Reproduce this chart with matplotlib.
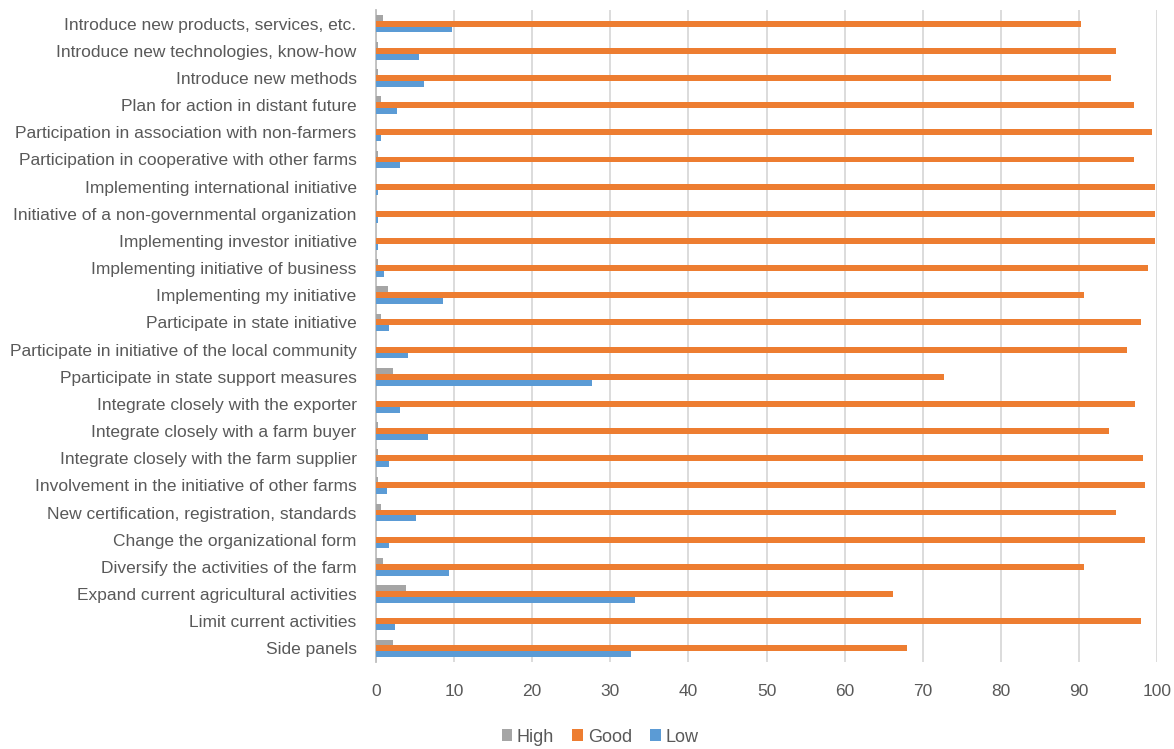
import numpy as np
import matplotlib
matplotlib.use("Agg")
from matplotlib import pyplot as plt

plt.rcParams['font.family'] = ['Liberation Sans', 'DejaVu Sans']

# categories listed top to bottom as in the picture
categories = [
    "Introduce new products, services, etc.",
    "Introduce new technologies, know-how",
    "Introduce new methods",
    "Plan for action in distant future",
    "Participation in association with non-farmers",
    "Participation in cooperative with other farms",
    "Implementing international initiative",
    "Initiative of a non-governmental organization",
    "Implementing investor initiative",
    "Implementing initiative of business",
    "Implementing my initiative",
    "Participate in state initiative",
    "Participate in initiative of the local community",
    "Pparticipate in state support measures",
    "Integrate closely with the exporter",
    "Integrate closely with a farm buyer",
    "Integrate closely with the farm supplier",
    "Involvement in the initiative of other farms",
    "New certification, registration, standards",
    "Change the organizational form",
    "Diversify the activities of the farm",
    "Expand current agricultural activities",
    "Limit current activities",
    "Side panels",
]

high = [0.9, 0.2, 0.2, 0.6, 0.0, 0.2, 0.0, 0.0, 0.0, 0.2, 1.5, 0.6,
        0.0, 2.2, 0.0, 0.2, 0.2, 0.2, 0.6, 0.0, 0.9, 3.8, 0.0, 2.2]
good = [90.3, 94.7, 94.1, 97.0, 99.4, 97.0, 99.8, 99.8, 99.8, 98.8, 90.6, 97.9,
        96.2, 72.7, 97.2, 93.8, 98.2, 98.5, 94.7, 98.5, 90.6, 66.2, 97.9, 68.0]
low = [9.7, 5.5, 6.2, 2.7, 0.7, 3.1, 0.3, 0.3, 0.3, 1.0, 8.6, 1.7,
       4.1, 27.6, 3.1, 6.6, 1.7, 1.4, 5.1, 1.7, 9.3, 33.1, 2.4, 32.7]

ticks = [0, 10, 20, 30, 40, 50, 60, 70, 80, 90, 100]

text_color = '#595959'
grid_color = '#D9D9D9'

fig = plt.figure(figsize=(11.74, 7.49), dpi=100)
ax = fig.add_axes([0.3203, 0.1162, 0.6652, 0.8704])

y = np.arange(len(categories))
h = 0.215
ax.barh(y - h, high, height=h, color='#A5A5A5', label='High', zorder=3)
ax.barh(y, good, height=h, color='#ED7D31', label='Good', zorder=3)
ax.barh(y + h, low, height=h, color='#5B9BD5', label='Low', zorder=3)

ax.set_ylim(len(categories) - 0.5, -0.5)
ax.set_xlim(0, 100)
ax.set_yticks(y)
ax.set_yticklabels(categories)
ax.set_xticks(ticks)

ax.grid(axis='x', color=grid_color, linewidth=1.3, zorder=0)
for s in ['top', 'right', 'bottom']:
    ax.spines[s].set_visible(False)
ax.spines['left'].set_color('#BFBFBF')
ax.spines['left'].set_linewidth(1.3)
ax.tick_params(axis='both', length=0, colors=text_color, labelsize=12.5)
ax.tick_params(axis='y', pad=14)
ax.tick_params(axis='x', pad=16)

fig.legend(loc='center', bbox_to_anchor=(0.511, 0.016), ncol=3, frameon=False,
           fontsize=13, labelcolor=text_color, handlelength=0.6, handleheight=0.6,
           handletextpad=0.25, columnspacing=1.0)

fig.savefig('out.png', dpi=100)
